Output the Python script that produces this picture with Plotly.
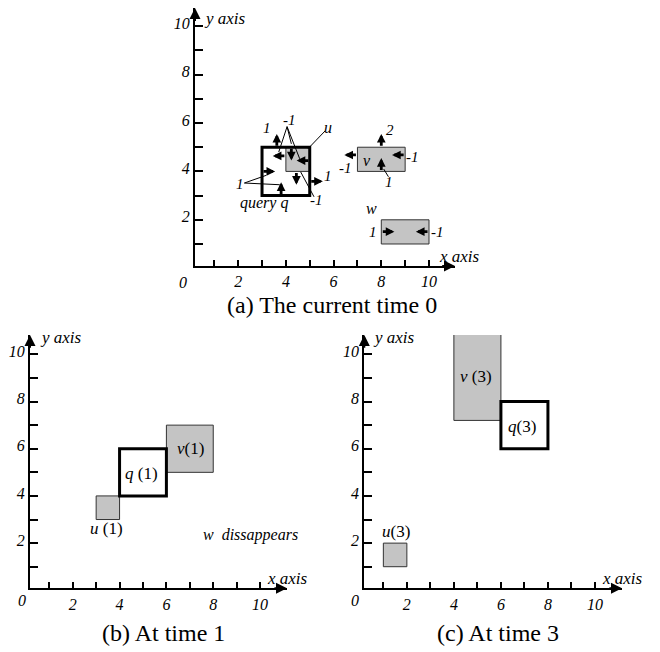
import plotly.graph_objects as go

# ---------------- data ----------------
# panel (a): objects at the current time 0
objs_a = ["q", "u", "v", "w"]
x0_a = [3, 4, 7, 8]
x1_a = [5, 5, 9, 10]
y0_a = [3, 4, 4, 1]
y1_a = [5, 5, 5, 2]

# edge velocities drawn in panel (a)
arrow_obj = ["q", "q", "q", "q", "u", "u", "u", "u", "v", "v", "v", "v", "w", "w"]
arrow_edge = ["top", "left", "bottom", "right", "top", "left", "right", "bottom",
              "top", "left", "bottom", "right", "left", "right"]
arrow_pos = [3.62, 4.0, 3.8, 3.59, 4.23, 4.64, 4.45, 4.44, 8.0, 4.68, 8.0, 4.68, 1.51, 1.51]
arrow_vel = [1, 1, 1, 1, -1, -1, -1, -1, 2, -1, 1, -1, 1, -1]

# panel (b): time 1
objs_b = ["q", "u", "v"]
x0_b = [4, 3, 6]
x1_b = [6, 4, 8]
y0_b = [4, 3, 5]
y1_b = [6, 4, 7]

# panel (c): time 3
objs_c = ["q", "u", "v"]
x0_c = [6, 1, 4]
x1_c = [8, 2, 6]
y0_c = [6, 1, 7.2]
y1_c = [8, 2, 11.1]

tick_vals = list(range(1, 11))
tick_text = ["", "2", "", "4", "", "6", "", "8", "", "10"]

# ---------------- layout helpers ----------------
# the page body has an 8px margin, so the figure is drawn 8px smaller
OFF = 8
W, H = 660 - OFF, 652 - OFF
FONT = "Liberation Serif"
GRAY = "#c4c4c4"


def PX(x):
    return min(1.0, max(0.0, (x - OFF) / W))


def PY(y):
    return min(1.0, max(0.0, 1 - (y - OFF) / H))


panels = {
    "a": dict(xd=[195, 455], yd=[266, 8], xr=[0.19, 11.09], yr=[0.09, 10.756], xa="x", ya="y"),
    "b": dict(xd=[30, 287], yd=[588.3, 335], xr=[0.175, 11.15], yr=[0.085, 10.82], xa="x2", ya="y2"),
    "c": dict(xd=[364.3, 622], yd=[588.3, 335], xr=[0.19, 11.15], yr=[0.085, 10.82], xa="x3", ya="y3"),
}

fig = go.Figure()
layout = dict(width=W, height=H, margin=dict(l=0, r=0, t=0, b=0), autosize=False,
              paper_bgcolor="white", plot_bgcolor="white", showlegend=False)
shapes = []
annotations = []

for key, p in panels.items():
    xname = "xaxis" + p["xa"][1:]
    yname = "yaxis" + p["ya"][1:]
    common = dict(showline=True, linewidth=2, linecolor="black", showgrid=False, zeroline=False,
                  ticks="inside", tickwidth=2, tickcolor="black", tickvals=tick_vals,
                  ticktext=tick_text, fixedrange=True,
                  tickfont=dict(family=FONT, size=16, style="italic", color="black"))
    layout[xname] = dict(common, domain=[PX(p["xd"][0]), PX(p["xd"][1])], range=p["xr"],
                         anchor=p["ya"], ticklen=6)
    layout[yname] = dict(common, domain=[PY(p["yd"][0]), PY(p["yd"][1])], range=p["yr"],
                         anchor=p["xa"], ticklen=8, ticklabelshift=-3)
    # axis arrowheads
    annotations.append(dict(x=p["xr"][1], y=p["yr"][0], ax=p["xr"][1] - 0.6, ay=p["yr"][0],
                            xref=p["xa"], yref=p["ya"], axref=p["xa"], ayref=p["ya"], text="",
                            showarrow=True, arrowhead=2, arrowsize=1.1, arrowwidth=2,
                            arrowcolor="black", standoff=0))
    annotations.append(dict(x=p["xr"][0], y=p["yr"][1], ax=p["xr"][0], ay=p["yr"][1] - 0.6,
                            xref=p["xa"], yref=p["ya"], axref=p["xa"], ayref=p["ya"], text="",
                            showarrow=True, arrowhead=2, arrowsize=1.1, arrowwidth=2,
                            arrowcolor="black", standoff=0))
    fig.add_trace(go.Scatter(x=[None], y=[None], xaxis=p["xa"], yaxis=p["ya"], hoverinfo="skip"))


def txt(x, y, s, size=16, xref="paper", yref="paper", xanchor="center", italic=True):
    annotations.append(dict(x=x, y=y, xref=xref, yref=yref, text=(f"<i>{s}</i>" if italic else s),
                            showarrow=False, xanchor=xanchor, yanchor="middle",
                            font=dict(family=FONT, size=size, color="black")))


def line(x0, y0, x1, y1, xr, yr):
    shapes.append(dict(type="line", x0=x0, y0=y0, x1=x1, y1=y1, xref=xr, yref=yr,
                       line=dict(color="black", width=1)))


def rects(names, x0s, x1s, y0s, y1s, xr, yr):
    # gray moving objects first, then the query on top
    for n, a, b, c, d in zip(names, x0s, x1s, y0s, y1s):
        if n != "q":
            shapes.append(dict(type="rect", x0=a, x1=b, y0=c, y1=d, xref=xr, yref=yr,
                               fillcolor=GRAY, line=dict(color="#333333", width=1)))
    for n, a, b, c, d in zip(names, x0s, x1s, y0s, y1s):
        if n == "q":
            shapes.append(dict(type="rect", x0=a, x1=b, y0=c, y1=d, xref=xr, yref=yr,
                               fillcolor="rgba(0,0,0,0)", line=dict(color="black", width=3)))


# axis titles and zeros (page pixel positions)
axis_titles = {
    "a": [(202, 19), (437, 256), (183, 282)],
    "b": [(38, 337), (265, 578), (21.7, 600)],
    "c": [(371, 337), (600, 578), (355, 600)],
}
for key, ((yx, yy), (xx, xy), (zx, zy)) in axis_titles.items():
    txt(PX(yx), PY(yy), "y axis", size=17, xanchor="left")
    txt(PX(xx), PY(xy), "x axis", size=17, xanchor="left")
    txt(PX(zx), PY(zy), "0", size=16)

# ---------------- panel (a) ----------------
xa, ya = "x", "y"
rects(objs_a, x0_a, x1_a, y0_a, y1_a, xa, ya)
ARROW_LEN = 0.55
for o, e, pos, vel in zip(arrow_obj, arrow_edge, arrow_pos, arrow_vel):
    i = objs_a.index(o)
    s = 1 if vel > 0 else -1
    if e in ("top", "bottom"):
        ey = y1_a[i] if e == "top" else y0_a[i]
        tx, ty, hx, hy = pos, ey, pos, ey + s * ARROW_LEN
    else:
        ex = x1_a[i] if e == "right" else x0_a[i]
        tx, ty, hx, hy = ex, pos, ex + s * ARROW_LEN, pos
    annotations.append(dict(x=hx, y=hy, ax=tx, ay=ty, xref=xa, yref=ya, axref=xa, ayref=ya,
                            text="", showarrow=True, arrowhead=2, arrowsize=0.62, arrowwidth=2.8,
                            arrowcolor="black", standoff=0, startstandoff=0))

# velocity labels: (arrow indices, label position, leader start, leader ends)
vel_labels = [
    ([0], (3.22, 5.79), None, []),
    ([4, 5, 6], (4.16, 6.11), (4.05, 5.85), [(3.70, 4.80), (4.23, 5.14), (4.58, 4.52)]),
    ([1, 2], (2.06, 3.49), (2.26, 3.52), [(3.18, 3.84), (3.74, 3.45)]),
    ([3], (5.75, 3.8), None, []),
    ([7], (5.3, 2.81), (5.18, 2.95), [(4.62, 3.98)]),
    ([8], (8.38, 5.71), None, []),
    ([9], (6.48, 4.14), None, []),
    ([10], (8.34, 3.57), (8.3, 3.78), [(8.1, 4.1)]),
    ([11], (9.3, 4.61), None, []),
    ([12], (7.64, 1.51), None, []),
    ([13], (10.34, 1.51), None, []),
]
for idx, (lx, ly), start, ends in vel_labels:
    txt(lx, ly, str(arrow_vel[idx[0]]), size=15, xref=xa, yref=ya)
    for ex, ey in ends:
        line(start[0], start[1], ex, ey, xa, ya)

txt(5.78, 5.83, "u", size=16, xref=xa, yref=ya)
line(5.65, 5.68, 4.93, 4.94, xa, ya)
txt(7.39, 4.47, "v", size=16, xref=xa, yref=ya)
txt(7.6, 2.45, "w", size=16, xref=xa, yref=ya)
txt(3.08, 2.69, "query q", size=16, xref=xa, yref=ya)

# ---------------- panel (b) ----------------
xb, yb = "x2", "y2"
rects(objs_b, x0_b, x1_b, y0_b, y1_b, xb, yb)
txt(4.95, 4.96, "<i>q</i> (1)", size=17, xref=xb, yref=yb, italic=False)
txt(7.01, 6.02, "<i>v</i>(1)", size=17, xref=xb, yref=yb, italic=False)
txt(3.45, 2.62, "<i>u</i> (1)", size=17, xref=xb, yref=yb, italic=False)
txt(9.57, 2.34, "w  dissappears", size=16, xref=xb, yref=yb)

# ---------------- panel (c) ----------------
xc, yc = "x3", "y3"
rects(objs_c, x0_c, x1_c, y0_c, y1_c, xc, yc)
txt(4.94, 9.05, "<i>v</i> (3)", size=17, xref=xc, yref=yc, italic=False)
txt(6.88, 6.96, "<i>q</i>(3)", size=17, xref=xc, yref=yc, italic=False)
txt(1.54, 2.5, "<i>u</i>(3)", size=17, xref=xc, yref=yc, italic=False)

# ---------------- captions ----------------
txt(PX(331.7), PY(305), "(a) The current time 0", size=24, italic=False)
txt(PX(163), PY(633), "(b) At time 1", size=24, italic=False)
txt(PX(498), PY(633), "(c) At time 3", size=24, italic=False)

layout["shapes"] = shapes
layout["annotations"] = annotations
fig.update_layout(**layout)
fig.write_html("out.html")
